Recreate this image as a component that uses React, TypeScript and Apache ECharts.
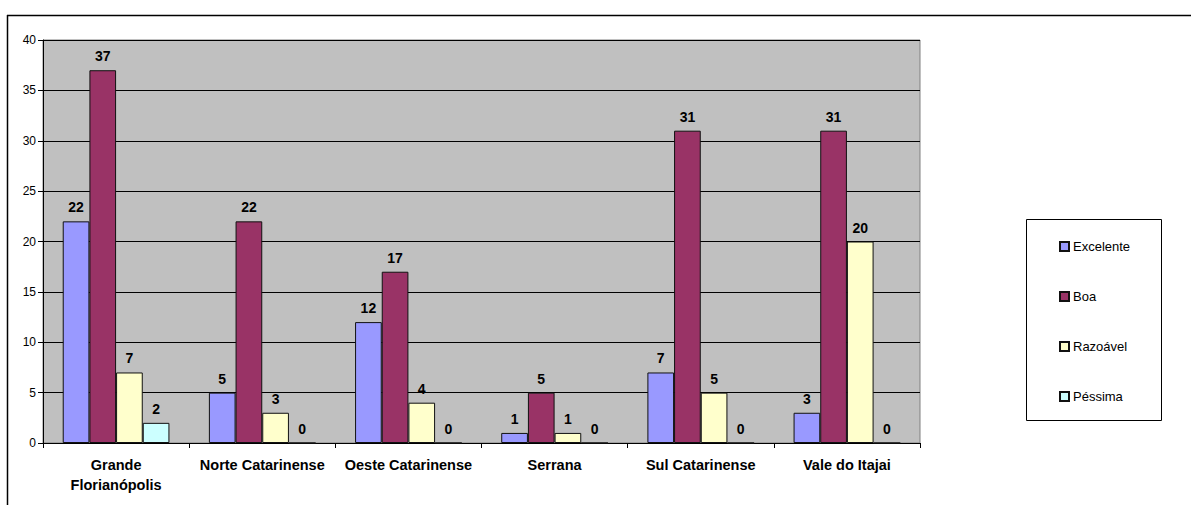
import React, { useEffect, useRef } from "react";
import * as echarts from "echarts";

const categories = [
  "Grande\nFlorianópolis",
  "Norte Catarinense",
  "Oeste Catarinense",
  "Serrana",
  "Sul Catarinense",
  "Vale do Itajai",
];
const seriesNames = ["Excelente", "Boa", "Razoável", "Péssima"];
const excelente = [22, 5, 12, 1, 7, 3];
const boa = [37, 22, 17, 5, 31, 31];
const razoavel = [7, 3, 4, 1, 5, 20];
const pessima = [2, 0, 0, 0, 0, 0];
const colors = ["#9999FF", "#993366", "#FFFFCC", "#CCFFFF"];

export default function App() {
  const ref = useRef<HTMLDivElement>(null);
  useEffect(() => {
    if (!ref.current) return;
    const chart = echarts.init(ref.current, null, { renderer: "svg" });
    const data = [excelente, boa, razoavel, pessima];
    const ff = "Liberation Sans, Arial, sans-serif";
    chart.setOption({
      animation: false,
      textStyle: { fontFamily: ff },
      graphic: [
        { type: "line", shape: { x1: 7, y1: 15.5, x2: 1191, y2: 15.5 }, style: { stroke: "#000", lineWidth: 1.5 } },
        { type: "line", shape: { x1: 7.5, y1: 15, x2: 7.5, y2: 505 }, style: { stroke: "#000", lineWidth: 1.5 } },
        { type: "rect", shape: { x: 1026.5, y: 219.5, width: 135, height: 201 }, style: { fill: "#fff", stroke: "#000", lineWidth: 1 }, z: -1 },
      ],
      grid: {
        left: 43,
        top: 40,
        right: 271,
        bottom: 62,
        show: true,
        backgroundColor: "#C0C0C0",
        borderColor: "#808080",
        borderWidth: 1,
      },
      legend: {
        orient: "vertical",
        left: 1054,
        top: 235,
        itemWidth: 9,
        itemHeight: 9,
        itemGap: 37,
        icon: "rect",
        textStyle: { fontSize: 13, color: "#000", fontFamily: ff, padding: [0, 0, 0, -1] },
        data: seriesNames,
      },
      xAxis: {
        type: "category",
        data: categories,
        axisLine: { lineStyle: { color: "#000" } },
        axisTick: { show: true, length: 5, lineStyle: { color: "#000" } },
        axisLabel: {
          interval: 0,
          margin: 12,
          fontSize: 14.5,
          fontWeight: "bold",
          color: "#000",
          lineHeight: 20,
          fontFamily: ff,
        },
      },
      yAxis: {
        type: "value",
        min: 0,
        max: 40,
        interval: 5,
        axisLine: { show: true, lineStyle: { color: "#000" } },
        axisTick: { show: true, length: 5, lineStyle: { color: "#000" } },
        splitLine: { lineStyle: { color: "#000", width: 1 } },
        axisLabel: { fontSize: 12, color: "#000", margin: 7, fontFamily: ff },
      },
      series: seriesNames.map((name, i) => ({
        name,
        type: "bar",
        data: data[i],
        barGap: "0%",
        barCategoryGap: "27%",
        itemStyle: { color: colors[i], borderColor: "#111", borderWidth: 1 },
        label: {
          show: true,
          position: "top",
          distance: 7,
          fontSize: 14,
          fontWeight: "bold",
          color: "#000",
          fontFamily: ff,
        },
      })),
    });
    return () => chart.dispose();
  }, []);
  return <div ref={ref} style={{ width: 1191, height: 505, position: "absolute", left: 0, top: 0 }} />;
}
